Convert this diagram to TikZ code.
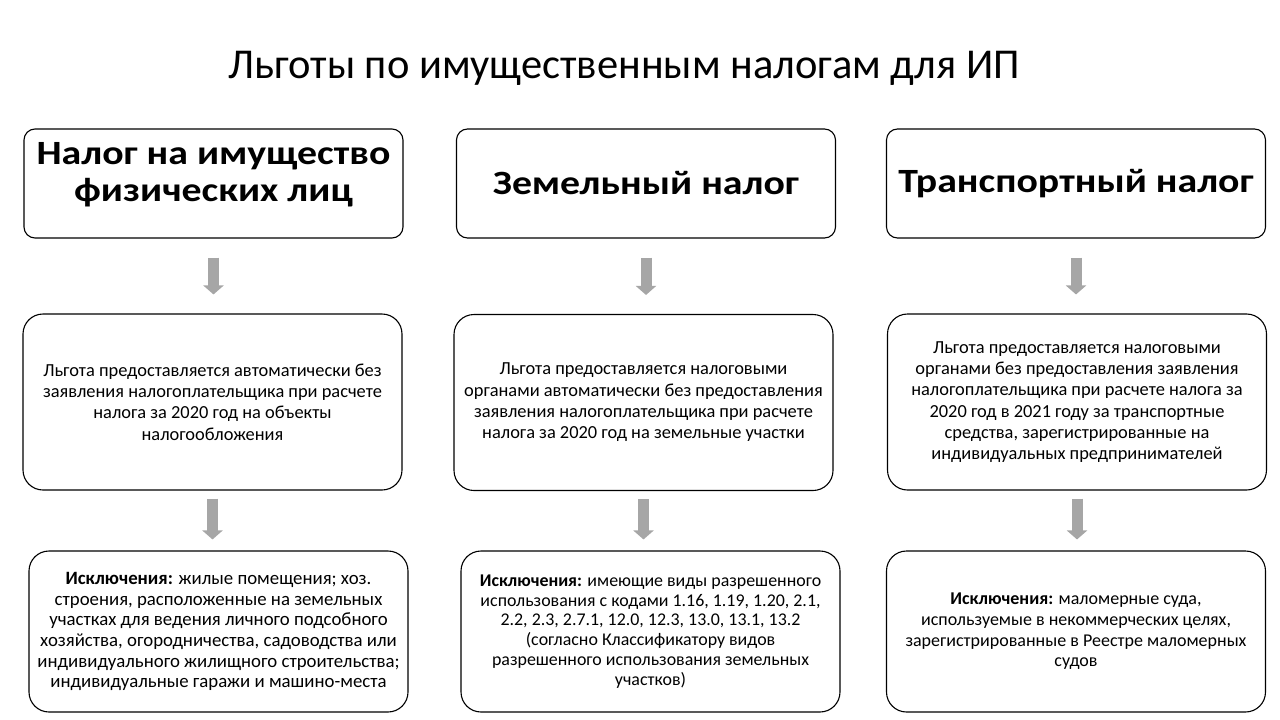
\documentclass[tikz,border=0pt]{standalone}
\usepackage{fontspec}
\setmainfont{Carlito}
\newfontfamily\headfont[FakeStretch=1.17]{Carlito}
\usetikzlibrary{arrows.meta}
\definecolor{arrowgray}{RGB}{166,166,166}
\tikzset{
  headbox/.style={draw=black, line width=1.1pt, rounded corners=11pt, fill=white,
    minimum width=379pt, minimum height=109pt, align=center, inner sep=0pt,
    font=\headfont\fontsize{34}{37.5}\selectfont\bfseries},
  midbox/.style={draw=black, line width=1.1pt, rounded corners=20pt, fill=white,
    minimum width=379pt, minimum height=176pt, align=center, inner sep=0pt,
    font=\fontsize{18.4}{21.3}\selectfont},
  lowbox/.style={draw=black, line width=1.1pt, rounded corners=20pt, fill=white,
    minimum width=379pt, minimum height=161pt, align=center, inner sep=0pt,
    font=\fontsize{18.4}{20.7}\selectfont},
  blockarrow/.style={draw=arrowgray, line width=11pt,
    -{Triangle[width=20pt,length=9pt]}},
}
\begin{document}
\begin{tikzpicture}[x=1pt,y=-1pt]
\useasboundingbox (0,0) rectangle (1280,720);
\fill[white] (0,0) rectangle (1280,720);
\node[font=\fontsize{42.5}{50}\selectfont] (title) at (624,68) {Льготы по имущественным налогам для ИП};

\node[headbox, text depth=23pt] (h1) at (213.5,183.5) {Налог на имущество\\физических лиц};
\node[headbox] (h2) at (646,183.5) {Земельный налог};
\node[headbox] (h3) at (1076,183.5) {Транспортный налог};

\node[midbox] (m1) at (212.5,402) {Льгота предоставляется автоматически без\\заявления налогоплательщика при расчете\\налога за 2020 год на объекты\\налогообложения};
\node[midbox] (m2) at (643.5,402.5) {Льгота предоставляется налоговыми\\органами автоматически без предоставления\\заявления налогоплательщика при расчете\\налога за 2020 год на земельные участки};
\node[midbox] (m3) at (1077,402) {Льгота предоставляется налоговыми\\органами без предоставления заявления\\налогоплательщика при расчете налога за\\2020 год в 2021 году за транспортные\\средства, зарегистрированные на\\индивидуальных предпринимателей};

\node[lowbox, font=\fontsize{18.8}{20.7}\selectfont] (l1) at (218.5,631.5) {\textbf{Исключения:} жилые помещения; хоз.\\строения, расположенные на земельных\\участках для ведения личного подсобного\\хозяйства, огородничества, садоводства или\\индивидуального жилищного строительства;\\индивидуальные гаражи и машино-места};
\node[lowbox, font=\fontsize{17.9}{19.8}\selectfont] (l2) at (650.5,631.5) {\textbf{Исключения:} имеющие виды разрешенного\\использования с кодами 1.16, 1.19, 1.20, 2.1,\\2.2, 2.3, 2.7.1, 12.0, 12.3, 13.0, 13.1, 13.2\\(согласно Классификатору видов\\разрешенного использования земельных\\участков)};
\node[lowbox, font=\fontsize{18}{20.7}\selectfont] (l3) at (1076,631.5) {\textbf{Исключения:} маломерные суда,\\используемые в некоммерческих целях,\\зарегистрированные в Реестре маломерных\\судов};

\draw[blockarrow, shorten <=19pt, shorten >=19pt] (h1.south) -- (h1.south |- m1.north);
\draw[blockarrow, shorten <=19pt, shorten >=19pt] (h2.south) -- (h2.south |- m2.north);
\draw[blockarrow, shorten <=19pt, shorten >=19pt] (h3.south) -- (h3.south |- m3.north);
\draw[blockarrow, shorten <=8pt, shorten >=11pt] (m1.south) -- (m1.south |- l1.north);
\draw[blockarrow, shorten <=8pt, shorten >=11pt] (m2.south) -- (m2.south |- l2.north);
\draw[blockarrow, shorten <=8pt, shorten >=11pt] (m3.south) -- (m3.south |- l3.north);
\end{tikzpicture}
\end{document}
